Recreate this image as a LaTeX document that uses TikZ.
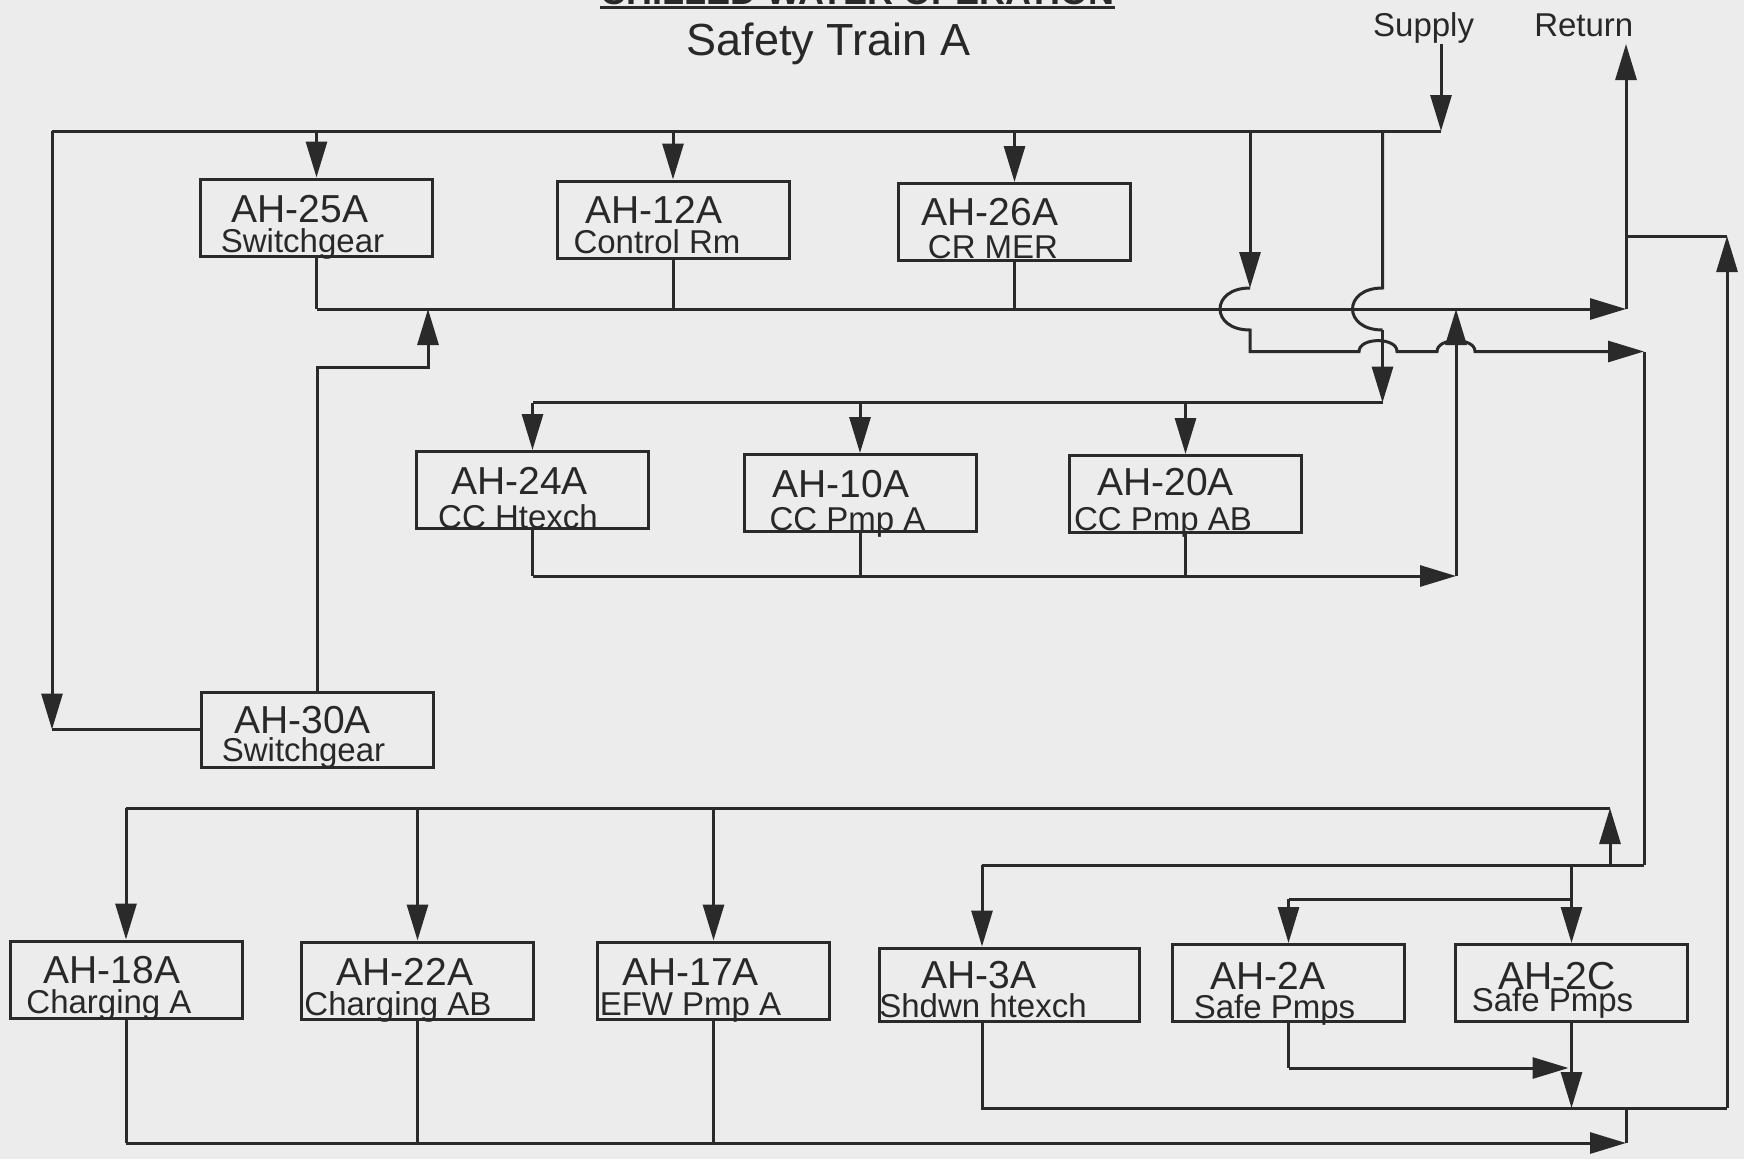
\documentclass[tikz,border=0pt]{standalone}
\usepackage{fontspec}
\setmainfont{Liberation Sans}
\usetikzlibrary{arrows.meta}
\definecolor{bgc}{RGB}{236,236,236}
\definecolor{linec}{RGB}{42,42,42}
\definecolor{txtc}{RGB}{40,40,40}
\tikzset{
  ln/.style={draw=linec, line width=3pt},
  arr/.style={ln, -{Triangle[length=36pt,width=21pt]}},
  box/.style={draw=linec, line width=3pt, minimum width=232pt, minimum height=77pt, inner sep=0pt},
  lab/.style={font=\fontsize{39}{39}\selectfont, text=txtc, inner sep=0pt, anchor=base},
  sub/.style={font=\fontsize{33}{33}\selectfont, text=txtc, inner sep=0pt, anchor=base},
  hdr/.style={font=\fontsize{33}{33}\selectfont, text=txtc, inner sep=0pt, anchor=base},
}
\begin{document}
\begin{tikzpicture}[x=1pt,y=-1pt]
\useasboundingbox (0,0) rectangle (1744,1159);
\fill[bgc] (0,0) rectangle (1744,1159);
% heading (cut off at the top)
\begin{scope}
\clip (0,0) rectangle (1744,1159);
\node[font=\bfseries\fontsize{36}{36}\selectfont, text=txtc, inner sep=0pt, anchor=base] (head) at (857.5,4.5) {CHILLED WATER OPERATION};
\end{scope}
\draw[draw=linec, line width=3.5pt] (head.base west |- 0,7.5) coordinate (ulA) -- (head.base east |- 0,7.5) coordinate (ulB);
\node[font=\fontsize{45}{45}\selectfont, text=txtc, inner sep=0pt, anchor=base] (title) at (828.6,55) {Safety Train A};
\node[hdr] (supplylbl) at (1423.6,36.7) {Supply};
\node[hdr] (returnlbl) at (1583.8,36.7) {Return};

% ---------- boxes ----------
\node[box] (a25) at (316.5,217.5) {};
\node[box] (a12) at (673,219.5) {};
\node[box] (a26) at (1014.5,222) {};
\node[box] (a24) at (532.5,490) {};
\node[box] (a10) at (860,493) {};
\node[box] (a20) at (1185.5,494) {};
\node[box, minimum height=75pt] (a30) at (317.5,729.5) {};
\node[box] (a18) at (126,979.5) {};
\node[box] (a22) at (417.5,980.5) {};
\node[box] (a17) at (713.5,980.5) {};
\node[box, minimum width=260pt, minimum height=73pt] (a3) at (1009,984.5) {};
\node[box] (a2a) at (1288.5,983) {};
\node[box] (a2c) at (1571.5,983) {};

% ---------- texts ----------
\node[lab] (t25) at (300,222) {AH-25A};
\node[sub] (s25) at (302.5,252) {Switchgear};
\node[lab] (t12) at (654,223) {AH-12A};
\node[sub] (s12) at (657,253) {Control Rm};
\node[lab] (t26) at (990,225) {AH-26A};
\node[sub] (s26) at (993,258) {CR MER};
\node[lab] (t24) at (519.5,494.5) {AH-24A};
\node[sub] (s24) at (518,528) {CC Htexch};
\node[lab] (t10) at (841,497) {AH-10A};
\node[sub] (s10) at (847.5,530) {CC Pmp A};
\node[lab] (t20) at (1165.5,495.5) {AH-20A};
\node[sub] (s20) at (1163,530) {CC Pmp AB};
\node[lab] (t30) at (302.5,733.5) {AH-30A};
\node[sub] (s30) at (303.5,761.5) {Switchgear};
\node[lab] (t18) at (112,983) {AH-18A};
\node[sub] (s18) at (109,1013) {Charging A};
\node[lab] (t22) at (405,985) {AH-22A};
\node[sub] (s22) at (398,1015) {Charging AB};
\node[lab] (t17) at (690.5,985) {AH-17A};
\node[sub] (s17) at (690.5,1015) {EFW Pmp A};
\node[lab] (t3) at (979,988) {AH-3A};
\node[sub] (s3) at (983,1017.5) {Shdwn htexch};
\node[lab] (t2a) at (1268,989.5) {AH-2A};
\node[sub] (s2a) at (1274.5,1018.5) {Safe Pmps};
\node[lab] (t2c) at (1557,989.5) {AH-2C};
\node[sub] (s2c) at (1552.5,1011) {Safe Pmps};

% ---------- coordinates ----------
\coordinate (sup) at (1441,44);
\coordinate (hR) at (1441,131);
\coordinate (hL) at (52,131);
\coordinate (yRet) at (0,309);
\coordinate (rR) at (1626,309);
\coordinate (ret) at (1626,44);
\coordinate (rr1) at (1626,236);
\coordinate (rr2) at (1727,236);
\coordinate (rr3) at (1727,1108);
\coordinate (bA0) at (1250,131);
\coordinate (bA1) at (1250,288);
\coordinate (bA2) at (1250,330);
\coordinate (bA3) at (1250,351.5);
\coordinate (sR) at (1644,351.5);
\coordinate (sB) at (1644,865);
\coordinate (bB0) at (1382.5,131);
\coordinate (bB1) at (1382.5,288);
\coordinate (bB2) at (1382.5,330);
\coordinate (bB3) at (1382.5,402.6);
\coordinate (yMid) at (0,576);
\coordinate (mR) at (1456,576);
\coordinate (mT) at (1456,309);
\coordinate (c30a) at (428,367);
\coordinate (c30b) at (428,309);
\coordinate (a3x) at (982,865);
\coordinate (bh) at (1610,808);
\coordinate (bhs) at (1610,865);
\coordinate (y2a) at (0,899);
\coordinate (y2r) at (0,1068);
\coordinate (y3r) at (0,1108);
\coordinate (yBot) at (0,1143);
\coordinate (bEnd) at (1626,1143);
\coordinate (bEndT) at (1626,1108);

% ---------- supply top ----------
\draw[arr] (sup) -- (hR);
\draw[ln] (hR) -- (hL);
\draw[arr] (hL) -- (hL |- a30.west);
\draw[ln] (hL |- a30.west) -- (a30.west);
\draw[arr] (a25.north |- hL) -- (a25.north);
\draw[arr] (a12.north |- hL) -- (a12.north);
\draw[arr] (a26.north |- hL) -- (a26.north);

% ---------- upper return ----------
\draw[ln] (a25.south) -- (a25.south |- yRet);
\draw[arr] (a25.south |- yRet) -- (rR);
\draw[ln] (a12.south) -- (a12.south |- yRet);
\draw[ln] (a26.south) -- (a26.south |- yRet);
\draw[arr] (rR) -- (ret);
\draw[arr] (rr3) -- (rr2);
\draw[ln] (rr2) -- (rr1);

% ---------- branch A (to lower section) ----------
\draw[arr] (bA0) -- (bA1);
\draw[arr] (bA1) .. controls (1210,288) and (1210,330) .. (bA2) -- (bA3)
  -- (1359,351.5) .. controls (1359,337) and (1397,337) .. (1397,351.5)
  -- (1437,351.5) .. controls (1437,337) and (1475,337) .. (1475,351.5) -- (sR);
\draw[ln] (sR) -- (sB);

% ---------- branch B (to CC row) ----------
\draw[ln] (bB0) -- (bB1) .. controls (1342.5,288) and (1342.5,330) .. (bB2);
\draw[arr] (bB2) -- (bB3);
\draw[ln] (bB3) -- (a24.north |- bB3);
\draw[arr] (a24.north |- bB3) -- (a24.north);
\draw[arr] (a10.north |- bB3) -- (a10.north);
\draw[arr] (a20.north |- bB3) -- (a20.north);

% ---------- CC row return ----------
\draw[ln] (a24.south) -- (a24.south |- yMid);
\draw[arr] (a24.south |- yMid) -- (mR);
\draw[ln] (a10.south) -- (a10.south |- yMid);
\draw[ln] (a20.south) -- (a20.south |- yMid);
\draw[arr] (mR) -- (mT);

% ---------- AH-30A return ----------
\draw[arr] (a30.north) -- (a30.north |- c30a) -- (c30a) -- (c30b);

% ---------- lower supply ----------
\draw[ln] (sB) -- (a3x);
\draw[arr] (a3x) -- (a3x |- a3.north);
\draw[arr] (bhs) -- (bh);
\draw[ln] (bh) -- (a18.north |- bh);
\draw[arr] (a18.north |- bh) -- (a18.north);
\draw[arr] (a22.north |- bh) -- (a22.north);
\draw[arr] (a17.north |- bh) -- (a17.north);
\draw[arr] (a2c.north |- sB) -- (a2c.north);
\draw[ln] (a2c.north |- y2a) -- (a2a.north |- y2a);
\draw[arr] (a2a.north |- y2a) -- (a2a.north);

% ---------- lower returns ----------
\draw[ln] (a2a.south) -- (a2a.south |- y2r);
\draw[arr] (a2a.south |- y2r) -- ([xshift=-3pt]a2c.south |- y2r);
\draw[arr] (a2c.south) -- (a2c.south |- y3r);
\draw[ln] (a3x |- a3.south) -- (a3x |- y3r) -- (rr3);
\draw[ln] (a18.south) -- (a18.south |- yBot);
\draw[arr] (a18.south |- yBot) -- (bEnd);
\draw[ln] (a22.south) -- (a22.south |- yBot);
\draw[ln] (a17.south) -- (a17.south |- yBot);
\draw[ln] (bEnd) -- (bEndT);
\end{tikzpicture}
\end{document}
